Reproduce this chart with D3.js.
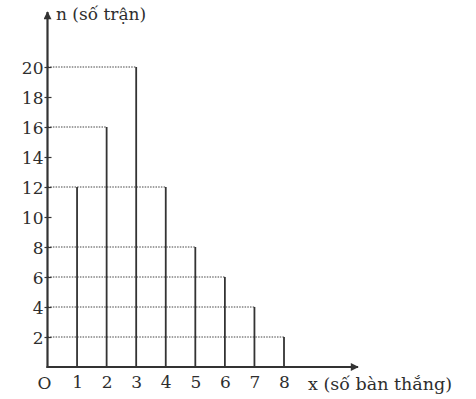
<!DOCTYPE html>
<html>
<head>
<meta charset="utf-8">
<script src="https://cdn.jsdelivr.net/npm/d3@7"></script>
<style>
  body { margin: 0; background: #fff; }
  svg text { font-family: "DejaVu Serif", "Liberation Serif", serif; fill: #2e2e2e; }
</style>
</head>
<body>
<svg width="476" height="399"></svg>
<script>
// goals per match (x) and number of matches (n)
const goals = [1, 2, 3, 4, 5, 6, 7, 8];
const matches = [12, 16, 20, 12, 8, 6, 4, 2];
const yTicks = [2, 4, 6, 8, 10, 12, 14, 16, 18, 20];
const xLabel = "x (số bàn thắng)";
const yLabel = "n (số trận)";

const svg = d3.select("svg");
const ink = "#333";

const x = d3.scaleLinear().domain([0, 8]).range([47.5, 284]);
const y = d3.scaleLinear().domain([0, 20]).range([367, 67]);

const x0 = x(0), y0 = y(0);

// dotted guides: from the y axis to the top of the rightmost bar having that height
const guides = d3.rollups(
    goals.map((g, i) => ({g, n: matches[i]})),
    v => d3.max(v, d => d.g),
    d => d.n);

svg.append("g")
    .selectAll("line")
    .data(guides)
    .enter().append("line")
    .attr("x1", x0)
    .attr("x2", d => x(d[1]))
    .attr("y1", d => y(d[0]))
    .attr("y2", d => y(d[0]))
    .attr("stroke", "#444")
    .attr("stroke-width", 1)
    .attr("stroke-dasharray", "1.5,1.2");

// vertical segments
svg.append("g")
    .selectAll("line")
    .data(goals)
    .enter().append("line")
    .attr("x1", d => x(d))
    .attr("x2", d => x(d))
    .attr("y1", y0)
    .attr("y2", (d, i) => y(matches[i]))
    .attr("stroke", ink)
    .attr("stroke-width", 1.8);

// y axis with ticks crossing the line
const yAxis = svg.append("g")
    .attr("transform", `translate(${x0},0)`)
    .call(d3.axisLeft(y).tickValues(yTicks).tickSize(4).tickPadding(4));
yAxis.select(".domain").remove();
yAxis.selectAll(".tick line")
    .attr("x1", -3).attr("x2", 4)
    .attr("stroke", ink).attr("stroke-width", 1.2);
yAxis.selectAll(".tick text")
    .attr("font-size", 17)
    .attr("x", -4)
    .attr("dy", "0.36em");

// x axis labels
const xAxis = svg.append("g")
    .attr("transform", `translate(0,${y0})`)
    .call(d3.axisBottom(x).tickValues(goals).tickSize(0).tickPadding(9));
xAxis.select(".domain").remove();
xAxis.selectAll(".tick text").attr("font-size", 17);

// axis lines with arrows
svg.append("defs").append("marker")
    .attr("id", "arrow")
    .attr("viewBox", "0 0 10 10")
    .attr("refX", 9).attr("refY", 5)
    .attr("markerWidth", 10).attr("markerHeight", 8)
    .attr("markerUnits", "userSpaceOnUse")
    .attr("orient", "auto")
    .append("path")
    .attr("d", "M0,0L10,5L0,10Z")
    .attr("fill", ink);

svg.append("line")
    .attr("x1", x0).attr("y1", y0 + 1)
    .attr("x2", x0).attr("y2", 12)
    .attr("stroke", ink).attr("stroke-width", 2.2)
    .attr("marker-end", "url(#arrow)");

svg.append("line")
    .attr("x1", x0 - 1).attr("y1", y0)
    .attr("x2", 358).attr("y2", y0)
    .attr("stroke", ink).attr("stroke-width", 2.2)
    .attr("marker-end", "url(#arrow)");

svg.append("text")
    .attr("x", x0 - 3).attr("y", y0 + 22)
    .attr("text-anchor", "middle")
    .attr("font-size", 17)
    .text("O");

svg.append("text")
    .attr("x", 56).attr("y", 20)
    .attr("font-size", 17)
    .text(yLabel);

svg.append("text")
    .attr("x", 308).attr("y", 390)
    .attr("font-size", 17.5)
    .text(xLabel);
</script>
</body>
</html>
